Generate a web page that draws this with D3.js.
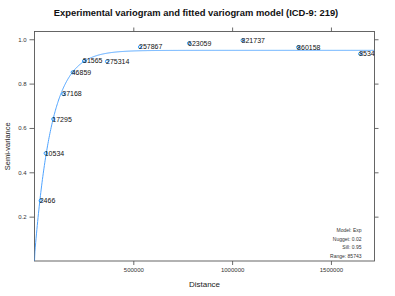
<!DOCTYPE html>
<html>
<head>
<meta charset="utf-8">
<script src="https://cdn.jsdelivr.net/npm/d3@7"></script>
<style>
  body { margin: 0; background: #fff; }
  text { font-family: "Liberation Sans", Arial, sans-serif; }
</style>
</head>
<body>
<div id="chart"></div>
<script>
// experimental variogram: bin distance, semivariance and number of pairs
var distances = [31400, 56700, 95200, 145800, 193400, 250600, 367000, 534000, 782000, 1053000, 1334000, 1648000];
var gammas    = [0.272, 0.486, 0.640, 0.753, 0.851, 0.902, 0.900, 0.965, 0.982, 0.995, 0.964, 0.934];
var pairs     = ["2466", "10534", "17295", "37168", "46859", "51565", "275314", "257867", "623059", "821737", "860158", "8534"];

// fitted model parameters (exponential)
var modelName = "Exp";
var nugget = 0.02;
var sill = 0.95;
var range = 85743;

var xTicks = [500000, 1000000, 1500000];
var yTicks = [0.2, 0.4, 0.6, 0.8, 1.0];

var W = 395, H = 296;
var box = { left: 34.5, right: 374.5, top: 31.5, bottom: 261 };

var svg = d3.select("#chart").append("svg")
    .attr("width", W)
    .attr("height", H);

// scales, lattice style limits (0 .. 1.04 * max)
var x = d3.scaleLinear()
    .domain([0, 1.044 * d3.max(distances)])
    .range([box.left, box.right]);
var y = d3.scaleLinear()
    .domain([0, 1.035])
    .range([box.bottom, box.top]);

// title
svg.append("text")
    .attr("x", 196)
    .attr("y", 16)
    .attr("text-anchor", "middle")
    .style("font-size", "9.4px")
    .style("font-weight", "bold")
    .attr("fill", "#111")
    .text("Experimental variogram and fitted variogram model (ICD-9: 219)");

// axes: ticks outside on all four sides, labels on left and bottom
var axisB = svg.append("g")
    .attr("transform", "translate(0," + box.bottom + ")")
    .call(d3.axisBottom(x).tickValues(xTicks).tickSize(4).tickPadding(3).tickFormat(d3.format("d")));
var axisT = svg.append("g")
    .attr("transform", "translate(0," + box.top + ")")
    .call(d3.axisTop(x).tickValues(xTicks).tickSize(4).tickFormat(""));
var axisL = svg.append("g")
    .attr("transform", "translate(" + box.left + ",0)")
    .call(d3.axisLeft(y).tickValues(yTicks).tickSize(5).tickPadding(3).tickFormat(d3.format(".1f")));
var axisR = svg.append("g")
    .attr("transform", "translate(" + box.right + ",0)")
    .call(d3.axisRight(y).tickValues(yTicks).tickSize(4).tickFormat(""));

[axisB, axisT, axisL, axisR].forEach(function(g) {
  g.select(".domain").remove();
  g.selectAll("line").attr("stroke", "#444").attr("stroke-width", 0.8);
  g.selectAll("text")
    .style("font-family", "'Liberation Sans', Arial, sans-serif")
    .style("font-size", "6px")
    .attr("fill", "#333");
});

// panel box
svg.append("rect")
    .attr("x", box.left)
    .attr("y", box.top)
    .attr("width", box.right - box.left)
    .attr("height", box.bottom - box.top)
    .attr("fill", "none")
    .attr("stroke", "#555")
    .attr("stroke-width", 0.9);

// axis titles
svg.append("text")
    .attr("x", (box.left + box.right) / 2)
    .attr("y", 287)
    .attr("text-anchor", "middle")
    .style("font-size", "8px")
    .attr("fill", "#222")
    .text("Distance");

svg.append("text")
    .attr("transform", "translate(10," + ((box.top + box.bottom) / 2) + ") rotate(-90)")
    .attr("text-anchor", "middle")
    .style("font-size", "7.5px")
    .attr("fill", "#222")
    .text("Semi-variance");

// model curve
var hs = d3.range(0, x.domain()[1], 2000);
var curve = hs.map(function(h) {
  return [h, h === 0 ? 0 : nugget + (sill - nugget) * (1 - Math.exp(-h / range))];
});

svg.append("clipPath").attr("id", "panel")
  .append("rect")
    .attr("x", box.left).attr("y", box.top)
    .attr("width", box.right - box.left).attr("height", box.bottom - box.top);

svg.append("path")
    .datum(curve)
    .attr("clip-path", "url(#panel)")
    .attr("fill", "none")
    .attr("stroke", "#4fa3ff")
    .attr("stroke-width", 1)
    .attr("d", d3.line()
      .x(function(d) { return x(d[0]); })
      .y(function(d) { return y(d[1]); }));

// points
var pts = distances.map(function(d, i) { return { dist: d, gamma: gammas[i], np: pairs[i] }; });

svg.selectAll(".pt")
    .data(pts)
    .enter().append("circle")
    .attr("class", "pt")
    .attr("cx", function(d) { return x(d.dist); })
    .attr("cy", function(d) { return y(d.gamma); })
    .attr("r", 1.6)
    .attr("fill", "none")
    .attr("stroke", "#0080ff")
    .attr("stroke-width", 0.8);

// pair counts
svg.selectAll(".np")
    .data(pts)
    .enter().append("text")
    .attr("class", "np")
    .attr("x", function(d) { return x(d.dist) - 1; })
    .attr("y", function(d) { return y(d.gamma); })
    .attr("dy", "0.35em")
    .style("font-size", "7px")
    .attr("fill", "#111")
    .text(function(d) { return d.np; });

// model legend, bottom right
var legend = ["Model: " + modelName, "Nugget: " + nugget.toFixed(2), "Sill: " + sill.toFixed(2), "Range: " + range];
svg.selectAll(".leg")
    .data(legend)
    .enter().append("text")
    .attr("class", "leg")
    .attr("x", 361.5)
    .attr("y", function(d, i) { return 232 + i * 8.6; })
    .attr("text-anchor", "end")
    .style("font-size", "5px")
    .attr("fill", "#333")
    .text(function(d) { return d; });
</script>
</body>
</html>
